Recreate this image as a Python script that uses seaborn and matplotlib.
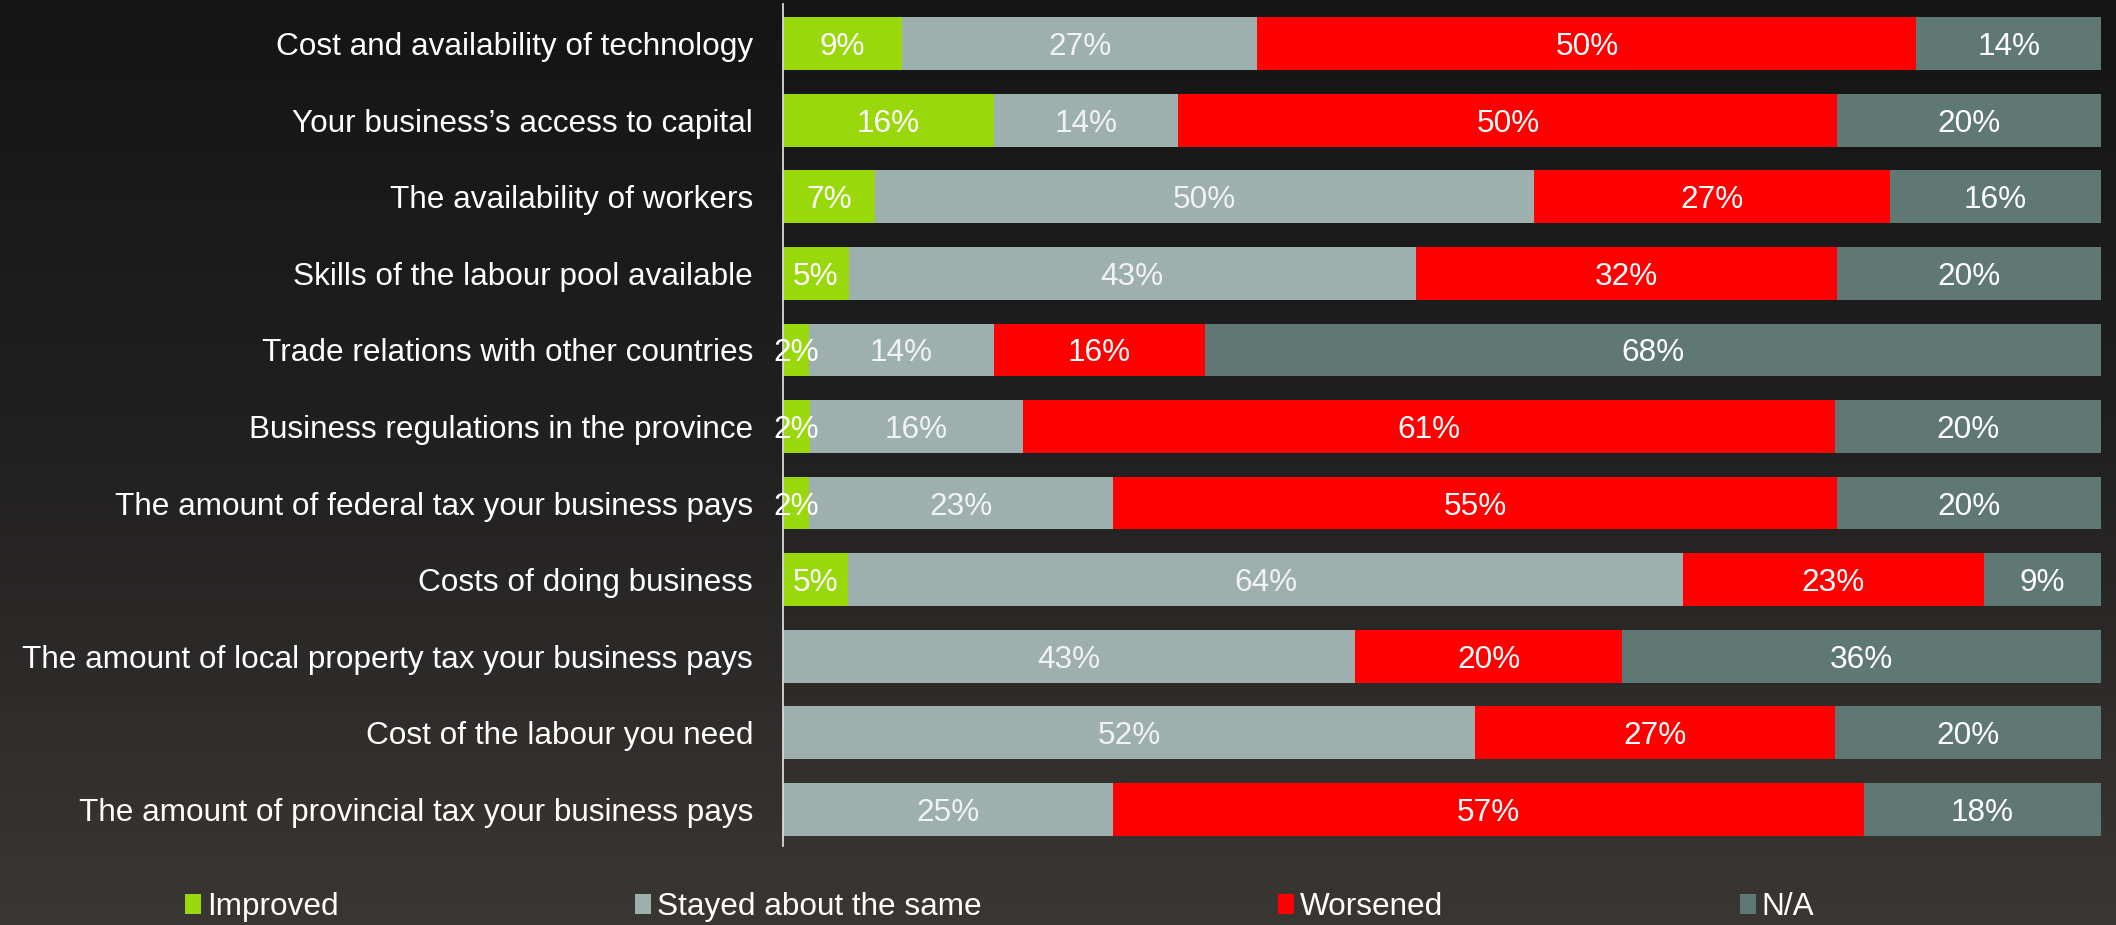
import numpy as np
import pandas as pd
import matplotlib
matplotlib.use('Agg')
import matplotlib.pyplot as plt
from matplotlib.patches import Patch
from matplotlib.colors import LinearSegmentedColormap
import seaborn as sns

categories = [
    'Cost and availability of technology',
    'Your business\u2019s access to capital',
    'The availability of workers',
    'Skills of the labour pool available',
    'Trade relations with other countries',
    'Business regulations in the province',
    'The amount of federal tax your business pays',
    'Costs of doing business',
    'The amount of local property tax your business pays',
    'Cost of the labour you need',
    'The amount of provincial tax your business pays',
]
improved = [9, 16, 7, 5, 2, 2, 2, 5, 0, 0, 0]
stayed = [27, 14, 50, 43, 14, 16, 23, 64, 43, 52, 25]
worsened = [50, 50, 27, 32, 16, 61, 55, 23, 20, 27, 57]
not_applicable = [14, 20, 16, 20, 68, 20, 20, 9, 36, 20, 18]

series = ['Improved', 'Stayed about the same', 'Worsened', 'N/A']
colors = ['#99D90B', '#9DB0AE', '#FF0000', '#5F7874']

df = pd.DataFrame({'category': categories, 'Improved': improved,
                   'Stayed about the same': stayed, 'Worsened': worsened,
                   'N/A': not_applicable})

# 100% stacked: scale each row to its total
total = df[series].sum(axis=1)
shares = df[series].div(total, axis=0) * 100
cum = shares.cumsum(axis=1)
cum['category'] = df['category']

sns.set_style('white')
plt.rcParams['font.family'] = ['Liberation Sans', 'DejaVu Sans']

fig = plt.figure(figsize=(21.16, 9.25), dpi=100)
fig.patch.set_facecolor('#262524')

# dark photo-like backdrop
bg = fig.add_axes([0, 0, 1, 1], zorder=-1)
grad = np.linspace(0, 1, 256).reshape(-1, 1)
cmap = LinearSegmentedColormap.from_list('bg', ['#151515', '#222121', '#3a3633'])
bg.imshow(grad, aspect='auto', cmap=cmap, extent=[0, 1, 0, 1], origin='upper')
bg.axis('off')

ax = fig.add_axes([783 / 2116, 1 - 846 / 925, (2101 - 783) / 2116, 842 / 925])
ax.set_facecolor('none')

# draw from the full bar down to the first segment so they overlap as a stack
for name, color in zip(series[::-1], colors[::-1]):
    sns.barplot(data=cum, x=name, y='category', color=color, width=0.69,
                saturation=1, linewidth=0, errorbar=None, orient='h', ax=ax)

fs = 22.7
for i, cat in enumerate(categories):
    start = 0
    for name in series:
        v = df.loc[i, name]
        s = shares.loc[i, name]
        if v > 0:
            tc = '#F2F2F2' if name == 'Stayed about the same' else 'white'
            ax.text(start + s / 2, i, f'{v}%', ha='center', va='center_baseline',
                    color=tc, fontsize=fs)
        start += s

ax.set_xlim(0, 100)
ax.set_ylim(10.48, -0.52)
ax.set_xlabel('')
ax.set_ylabel('')
ax.set_xticks([])
ax.tick_params(axis='y', length=0, pad=21.6, labelsize=fs, labelcolor='white')
for side in ['top', 'right', 'bottom']:
    ax.spines[side].set_visible(False)
ax.spines['left'].set_color('#D9D9D9')
ax.spines['left'].set_linewidth(1.3)

handles = [Patch(facecolor=c, edgecolor='none', label=n) for n, c in zip(series, colors)]
leg = fig.legend(handles=handles, loc='center left', ncol=4,
                 bbox_to_anchor=(185 / 2116, 1 - 907 / 925), frameon=False,
                 fontsize=fs, handlelength=0.5, handleheight=0.6,
                 handletextpad=0.2, columnspacing=9.4, borderpad=0,
                 borderaxespad=0)
for t in leg.get_texts():
    t.set_color('white')

fig.savefig('out.png', dpi=100, facecolor=fig.get_facecolor())
